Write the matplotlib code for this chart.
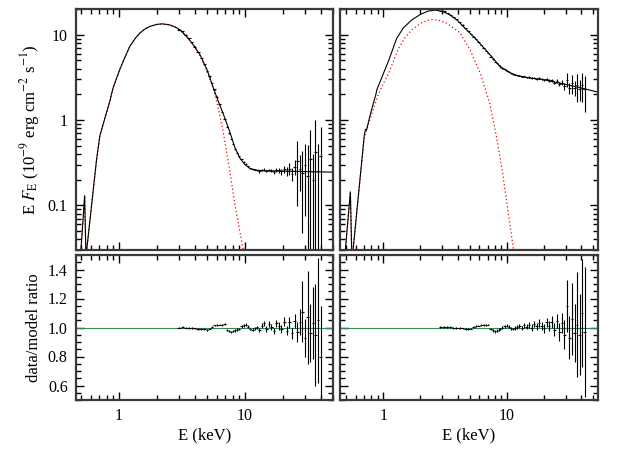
import numpy as np
import matplotlib.pyplot as plt
from matplotlib.ticker import LogLocator, MultipleLocator, NullFormatter

plt.rcParams['font.family'] = ['Liberation Serif', 'DejaVu Serif']
plt.rcParams['mathtext.fontset'] = 'stix'

# ---- model curves ----
# left: total model (black) and disk component (red dotted)
e_mod_l = [0.49, 0.534, 0.547, 0.665, 0.706, 0.75, 0.80, 0.855, 0.865, 0.90, 1.0, 1.1, 1.22, 1.35,
           1.47, 1.6, 1.76, 2.0, 2.2, 2.5, 2.8, 3.05, 3.5, 4.0, 4.4, 5.0, 5.6, 6.2, 6.7, 7.6,
           8.3, 9.1, 10.0, 11.0, 12.5, 15.0, 20.0, 30.0, 50.0]
f_mod_l = [0.02, 0.13, 0.025, 0.35, 0.66, 0.90, 1.25, 1.75, 1.92, 2.4, 3.7, 5.2, 7.3, 9.1,
           10.5, 11.6, 12.5, 13.2, 13.4, 13.1, 12.3, 11.4, 9.3, 7.2, 5.8, 3.9, 2.4, 1.6, 1.2, 0.72,
           0.48, 0.36, 0.30, 0.27, 0.258, 0.254, 0.252, 0.249, 0.245]
e_disk_l = [0.49, 0.534, 0.547, 0.665, 0.706, 0.75, 0.80, 0.855, 0.865, 0.90, 1.0, 1.1, 1.22, 1.35,
            1.47, 1.6, 1.76, 2.0, 2.2, 2.5, 2.8, 3.05, 3.5, 4.0, 4.4, 5.0, 5.5, 5.8, 6.2, 6.7,
            7.2, 7.7, 8.3, 9.0, 9.7, 10.5]
f_disk_l = [0.02, 0.13, 0.025, 0.35, 0.66, 0.90, 1.25, 1.75, 1.92, 2.4, 3.7, 5.2, 7.3, 9.1,
            10.5, 11.6, 12.5, 13.2, 13.35, 13.0, 12.2, 11.3, 9.2, 7.1, 5.7, 3.7, 2.55, 1.95, 1.3, 0.74,
            0.40, 0.22, 0.105, 0.054, 0.030, 0.015]

# right: total model and disk component
e_mod_r = [0.48, 0.54, 0.556, 0.70, 0.716, 0.73, 0.756, 0.80, 0.87, 0.884, 1.0, 1.1, 1.28, 1.45,
           1.7, 2.0, 2.3, 2.62, 3.0, 3.47, 4.0, 4.73, 5.7, 7.3, 8.8, 10.6, 12.1, 15.0, 20.0,
           30.0, 40.0, 55.0]
f_mod_r = [0.02, 0.144, 0.022, 0.66, 0.78, 0.76, 0.94, 1.3, 2.0, 2.25, 3.5, 4.9, 9.0, 12.0,
           14.9, 17.3, 18.9, 19.4, 18.8, 17.1, 14.6, 11.4, 8.7, 5.85, 4.27, 3.59, 3.33, 3.12, 2.97,
           2.62, 2.38, 2.12]
e_disk_r = [0.48, 0.54, 0.556, 0.70, 0.80, 0.90, 1.0, 1.1, 1.32, 1.5, 1.7, 2.0, 2.39, 2.8,
            3.3, 4.18, 5.06, 6.17, 7.3, 8.3, 9.3, 10.3, 11.2, 12.0]
f_disk_r = [0.02, 0.144, 0.022, 0.62, 1.15, 1.9, 2.7, 3.5, 6.8, 9.3, 11.4, 13.6, 15.1, 14.8,
            13.6, 10.5, 6.6, 3.4, 1.55, 0.62, 0.23, 0.082, 0.035, 0.015]

# ---- left spectrum data ----
e_l = [3.0, 3.2, 3.4, 3.6, 3.8, 4.0, 4.25, 4.5, 4.75, 5.0,
       5.25, 5.5, 5.75, 6.0, 6.3, 6.6, 6.9, 7.2, 7.5, 7.8,
       8.1, 8.4, 8.7, 9.0, 9.4, 9.8, 10.2, 10.6, 11.0, 11.5,
       12.0, 12.5, 13.0, 13.6, 14.2, 14.8, 15.5, 16.2, 17.0, 17.8,
       18.6, 19.5, 20.5, 21.5, 22.5, 23.6, 24.8, 26.0, 27.3, 28.6,
       30.0, 31.5, 33.0, 34.6, 36.3, 38.1, 40.0]
flux_l = [11.5, 10.9, 10.0, 9.05, 8.15, 7.25, 6.25, 5.35, 4.55, 3.8,
          3.25, 2.72, 2.28, 1.88, 1.53, 1.24, 1.02, 0.83, 0.70, 0.60,
          0.527, 0.46, 0.414, 0.377, 0.349, 0.325, 0.306, 0.286, 0.272, 0.264,
          0.261, 0.258, 0.25, 0.258, 0.262, 0.252, 0.26, 0.256, 0.248, 0.262,
          0.257, 0.25, 0.265, 0.25, 0.27, 0.235, 0.28, 0.33, 0.27, 0.24,
          0.30, 0.22, 0.35, 0.20, 0.42, 0.25, 0.38]
flux_relerr_l = [0.008] * 17 + [0.012] * 15 + \
                [0.03, 0.03, 0.035, 0.035, 0.04, 0.045, 0.05, 0.06, 0.07, 0.08, 0.09,
                 0.12, 0.15, 0.18, 0.2,
                 0.7, 0.45, 0.8, 0.75, 1.3, 1.2, 1.0, 1.4, 1.1, 1.2]
ratio_l = [1.000, 1.002, 1.000, 0.997, 0.995, 0.994, 0.991, 0.990, 0.988, 0.985,
           0.993, 1.005, 1.014, 1.018, 1.020, 1.019, 1.024, 0.985, 0.975, 0.970,
           0.976, 0.980, 0.986, 0.992, 1.010, 1.016, 1.020, 1.004, 0.990, 0.984,
           0.996, 1.002, 0.982, 1.012, 1.028, 0.990, 1.022, 1.004, 0.975, 1.030,
           1.010, 0.988, 1.040, 0.978, 1.035, 0.960, 1.045, 0.970, 1.040, 1.110,
           0.930, 1.070, 0.960, 1.030, 0.950, 1.050, 0.800]
ratio_err_l = [0.006] * 17 + [0.008] * 7 + [0.01] * 8 + \
              [0.015, 0.016, 0.017, 0.018, 0.02, 0.02, 0.022, 0.024, 0.025, 0.027, 0.03,
               0.033, 0.036, 0.04, 0.045,
               0.07, 0.09, 0.21, 0.13, 0.32, 0.2, 0.25, 0.35, 0.43, 0.35]

# ---- right spectrum data ----
e_r = [2.9, 3.1, 3.3, 3.5, 3.7, 3.9, 4.15, 4.4, 4.65, 4.9,
       5.15, 5.4, 5.65, 5.9, 6.2, 6.5, 6.8, 7.1, 7.4, 7.7,
       8.0, 8.3, 8.6, 8.9, 9.2, 9.6, 10.0, 10.4, 10.8, 11.2,
       11.7, 12.2, 12.7, 13.3, 13.9, 14.5, 15.2, 15.9, 16.7, 17.5,
       18.3, 19.2, 20.1, 21.1, 22.1, 23.2, 24.3, 25.5, 26.7, 28.0,
       29.4, 30.8, 32.3, 33.9, 35.5, 37.2, 39.0, 40.9, 42.9]
flux_r = [18.95, 18.7, 18.0, 17.05, 16.1, 15.25, 14.1, 13.1, 12.0, 11.0,
          10.25, 9.52, 8.89, 8.31, 7.61, 7.01, 6.52, 6.12, 5.54, 5.15,
          4.83, 4.6, 4.38, 4.16, 4.05, 3.91, 3.8, 3.67, 3.53, 3.44,
          3.39, 3.34, 3.31, 3.22, 3.24, 3.17, 3.18, 3.09, 3.14, 3.05,
          3.09, 3.02, 2.93, 3.01, 2.9, 2.94, 2.75, 2.87, 2.63, 2.75,
          2.5, 2.98, 2.35, 2.72, 2.38, 2.56, 2.32, 2.6, 2.28]
ratio_r = [1.003, 1.005, 1.006, 1.002, 0.999, 0.997, 0.995, 0.994, 0.992, 0.990,
           0.993, 1.002, 1.010, 1.013, 1.015, 1.016, 1.018, 1.020, 0.990, 0.980,
           0.975, 0.978, 0.985, 0.990, 1.000, 1.008, 1.012, 1.005, 0.995, 0.990,
           0.996, 1.004, 1.010, 0.998, 1.015, 1.006, 1.020, 1.000, 1.025, 1.008,
           1.030, 1.012, 0.995, 1.035, 1.010, 1.040, 0.985, 1.045, 0.970, 1.030,
           0.950, 1.150, 0.930, 1.060, 0.960, 1.020, 0.950, 1.100, 0.970]
ratio_err_r = [0.006] * 18 + [0.01] * 12 + \
              [0.012, 0.013, 0.014, 0.015, 0.017, 0.018, 0.02, 0.021, 0.023, 0.025, 0.026, 0.028, 0.03,
               0.03, 0.035, 0.04, 0.045, 0.05, 0.06, 0.07,
               0.1, 0.18, 0.15, 0.25, 0.2, 0.36, 0.28, 0.37, 0.45]


def bin_halfwidths(e):
    # bin edges halfway (in log) between neighbouring channels
    e = np.asarray(e)
    mid = np.sqrt(e[1:] * e[:-1])
    lo = np.concatenate([[e[0] ** 2 / mid[0]], mid])
    hi = np.concatenate([mid, [e[-1] ** 2 / mid[-1]]])
    return [e - lo, hi - e]


def style_axis(ax):
    ax.tick_params(which='both', direction='in', top=True, right=True,
                   width=1.0, labelsize=11.5, pad=6)
    ax.tick_params(which='major', length=6)
    ax.tick_params(which='minor', length=3.5)
    for s in ax.spines.values():
        s.set_linewidth(1.6)
        s.set_color('#3a3a3a')


fig = plt.figure(figsize=(6.3, 4.55), dpi=100)
lefts = [76 / 630, 340 / 630]
widths = [257 / 630, 258 / 630]
xlims = [(0.456, 50), (0.445, 55)]

panels = [
    (e_mod_l, f_mod_l, e_disk_l, f_disk_l, e_l, flux_l, flux_relerr_l, ratio_l, ratio_err_l),
    (e_mod_r, f_mod_r, e_disk_r, f_disk_r, e_r, flux_r, ratio_err_r, ratio_r, ratio_err_r),
]

for i, (em, fm, ed, fd, e, fl, fl_rel, rat, rat_err) in enumerate(panels):
    ax_top = fig.add_axes([lefts[i], 1 - 250 / 455, widths[i], 241 / 455])
    ax_bot = fig.add_axes([lefts[i], 1 - 400 / 455, widths[i], 145 / 455])
    xerr = bin_halfwidths(e)

    # spectrum
    ax_top.set_xscale('log')
    ax_top.set_yscale('log')
    ax_top.plot(ed, fd, color='red', lw=0.9, ls=(0, (1, 2)))
    ax_top.plot(em, fm, color='black', lw=0.8)
    ax_top.errorbar(e, fl, xerr=xerr, yerr=np.array(fl) * np.array(fl_rel),
                    fmt='none', ecolor='black', elinewidth=0.8, capsize=0)
    ax_top.set_xlim(*xlims[i])
    ax_top.set_ylim(0.03, 20)
    ax_top.set_yticks([0.1, 1, 10])
    ax_top.set_yticklabels(['0.1', '1', '10'] if i == 0 else [])
    ax_top.yaxis.set_minor_locator(LogLocator(base=10, subs=range(2, 10)))
    ax_top.yaxis.set_minor_formatter(NullFormatter())
    ax_top.set_xticks([1, 10])
    ax_top.set_xticklabels([])
    ax_top.xaxis.set_minor_locator(LogLocator(base=10, subs=range(2, 10)))
    ax_top.xaxis.set_minor_formatter(NullFormatter())
    style_axis(ax_top)

    # ratio
    ax_bot.set_xscale('log')
    ax_bot.axhline(1.0, color='#2e8b57', lw=0.8)
    ax_bot.errorbar(e, rat, xerr=xerr, yerr=rat_err,
                    fmt='none', ecolor='black', elinewidth=0.8, capsize=0)
    ax_bot.set_xlim(*xlims[i])
    ax_bot.set_ylim(0.5, 1.5)
    ax_bot.yaxis.set_major_locator(MultipleLocator(0.2))
    ax_bot.yaxis.set_minor_locator(MultipleLocator(0.05))
    ax_bot.set_yticks([0.6, 0.8, 1.0, 1.2, 1.4])
    ax_bot.set_yticklabels(['0.6', '0.8', '1.0', '1.2', '1.4'] if i == 0 else [])
    ax_bot.set_xticks([1, 10])
    ax_bot.set_xticklabels(['1', '10'])
    ax_bot.xaxis.set_minor_locator(LogLocator(base=10, subs=range(2, 10)))
    ax_bot.xaxis.set_minor_formatter(NullFormatter())
    ax_bot.set_xlabel('E (keV)', fontsize=12, labelpad=2)
    style_axis(ax_bot)

    if i == 0:
        ax_top.set_ylabel(r'E $F_{\rm E}$ (10$^{-9}$ erg cm$^{-2}$ s$^{-1}$)', fontsize=12)
        ax_bot.set_ylabel('data/model ratio', fontsize=12)

fig.savefig('out.png', dpi=100)
